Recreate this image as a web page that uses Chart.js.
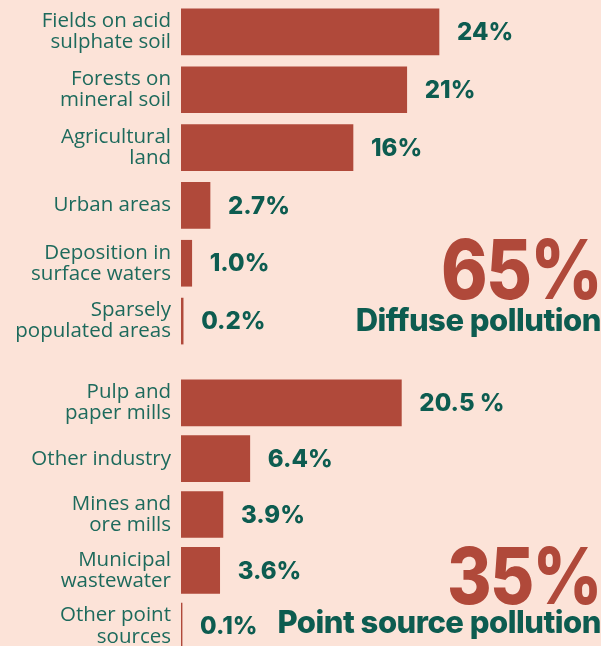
<!DOCTYPE html>
<html><head><meta charset="utf-8">
<script src="https://cdn.jsdelivr.net/npm/chart.js@4.4.1/dist/chart.umd.min.js"></script>
<style>
html,body{margin:0;padding:0;width:601px;height:646px;overflow:hidden;background:#fce3d8;}
canvas{position:absolute;left:0;}
.big{position:absolute;right:0px;font-family:Inter,"Open Sans",sans-serif;font-weight:800;color:#b0493a;line-height:1;letter-spacing:-2px;text-align:right;transform:scaleX(0.86);transform-origin:right center;}
.sub{position:absolute;right:0px;font-family:Inter,"Open Sans",sans-serif;font-weight:800;color:#0d5c50;line-height:1;text-align:right;white-space:nowrap;letter-spacing:-0.5px;}
</style></head>
<body>
<canvas id="c1" width="601" height="347" style="top:3px;width:601px;height:347px;"></canvas>
<canvas id="c2" width="601" height="279" style="top:375px;width:601px;height:279px;"></canvas>
<div class="big" id="t65" style="top:229px;font-size:82px;">65%</div>
<div class="sub" id="d1" style="top:304px;font-size:31px;">Diffuse pollution</div>
<div class="big" id="t35" style="top:536px;font-size:79px;">35%</div>
<div class="sub" id="d2" style="top:606px;font-size:31px;">Point source pollution</div>
<script>
const diffuseCategories = [["Fields on acid","sulphate soil"],["Forests on","mineral soil"],["Agricultural","land"],"Urban areas",["Deposition in","surface waters"],["Sparsely","populated areas"]];
const diffuseValues = [24, 21, 16, 2.7, 1.0, 0.2];
const diffuseLabels = ["24%","21%","16%","2.7%","1.0%","0.2%"];
const pointCategories = [["Pulp and","paper mills"],"Other industry",["Mines and","ore mills"],["Municipal","wastewater"],["Other point","sources"]];
const pointValues = [20.5, 6.4, 3.9, 3.6, 0.1];
const pointLabels = ["20.5 %","6.4%","3.9%","3.6%","0.1%"];

const BAR = '#b0493a', TEAL = '#1d6a5c', DARK = '#0d5c50';
const valuePlugin = {
  id:'valuePlugin',
  afterDatasetsDraw(chart){
    const ctx = chart.ctx;
    const labels = chart.options.plugins.valuePlugin.labels;
    const meta = chart.getDatasetMeta(0);
    ctx.save();
    ctx.font = '800 24px Inter, "Open Sans", sans-serif';
    ctx.fillStyle = DARK;
    ctx.textBaseline = 'middle';
    ctx.textAlign = 'left';
    meta.data.forEach((el,i)=>{
      ctx.fillText(labels[i], el.x + 18, el.y + 1);
    });
    ctx.restore();
  }
};
function make(id, cats, vals, labs){
  return new Chart(document.getElementById(id), {
    type:'bar',
    data:{labels:cats, datasets:[{data:vals, backgroundColor:BAR, borderWidth:0, barThickness:46}]},
    options:{
      indexAxis:'y', responsive:false, animation:false, devicePixelRatio:1,
      layout:{padding:0},
      plugins:{legend:{display:false}, tooltip:{enabled:false}, valuePlugin:{labels:labs}},
      scales:{
        x:{display:false, min:0, max:39.07},
        y:{
          grid:{display:false, drawTicks:false}, border:{display:false},
          ticks:{color:TEAL, padding:10, font:{family:'"Open Sans", sans-serif', size:20.5, lineHeight:1.03}},
          afterFit(s){ s.width = 181; s.paddingTop = 0; s.paddingBottom = 0; }
        }
      }
    },
    plugins:[valuePlugin]
  });
}
make('c1', diffuseCategories, diffuseValues, diffuseLabels);
make('c2', pointCategories, pointValues, pointLabels);
</script>
</body></html>
